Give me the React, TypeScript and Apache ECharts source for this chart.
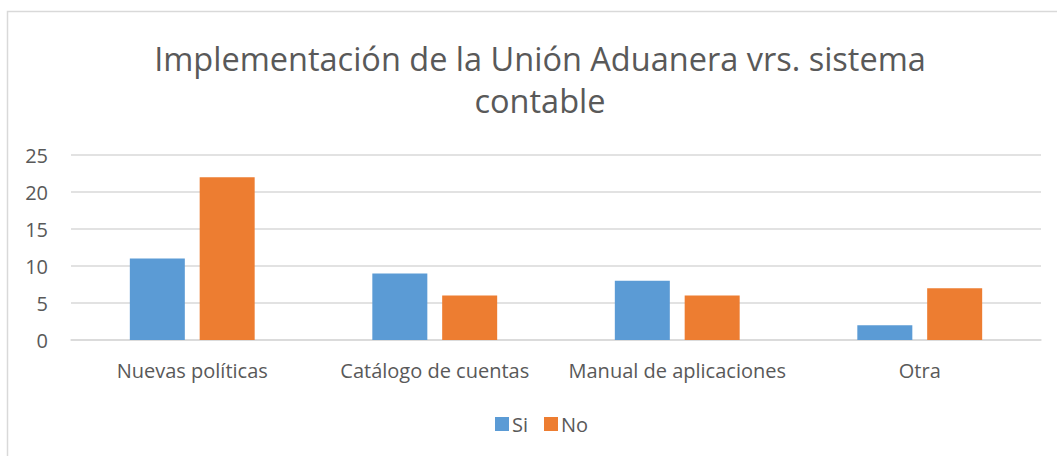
import React, { useEffect, useRef } from "react";
import * as echarts from "echarts";

const categories = ["Nuevas políticas", "Catálogo de cuentas", "Manual de aplicaciones", "Otra"];
const siValues = [11, 9, 8, 2];
const noValues = [22, 6, 6, 7];
const titleText = "Implementación de la Unión Aduanera vrs. sistema\ncontable";

export default function App() {
  const ref = useRef<HTMLDivElement>(null);
  useEffect(() => {
    if (!ref.current) return;
    const chart = echarts.init(ref.current, null, { renderer: "svg" });
    const font = "'Open Sans', 'Noto Sans', sans-serif";
    chart.setOption({
      animation: false,
      backgroundColor: "#ffffff",
      textStyle: { fontFamily: font },
      title: {
        text: titleText,
        left: 535,
        top: 32,
        textAlign: "center",
        textStyle: { fontSize: 32.5, fontWeight: "normal", color: "#595959", lineHeight: 42, fontFamily: font },
      },
      graphic: [
        {
          type: "rect",
          shape: { x: 7.5, y: 11.5, width: 1060, height: 460 },
          style: { fill: "none", stroke: "#d9d9d9", lineWidth: 1.5 },
          silent: true,
        },
      ],
      legend: {
        bottom: 17,
        left: 490,
        itemWidth: 14,
        itemHeight: 14,
        itemGap: 16,
        icon: "rect",
        textStyle: { fontSize: 20, color: "#595959", fontFamily: font, padding: [0, 0, 0, -2] },
        data: ["Si", "No"],
      },
      grid: { left: 71, right: 16, top: 155, bottom: 116, containLabel: false },
      xAxis: {
        type: "category",
        data: categories,
        axisTick: { show: false },
        axisLine: { lineStyle: { color: "#d9d9d9", width: 1.5 } },
        axisLabel: { fontSize: 20, color: "#595959", margin: 20, interval: 0, fontFamily: font },
      },
      yAxis: {
        type: "value",
        min: 0,
        max: 25,
        interval: 5,
        axisLine: { show: false },
        axisTick: { show: false },
        splitLine: { lineStyle: { color: "#d9d9d9", width: 1.5 } },
        axisLabel: { fontSize: 20, color: "#595959", margin: 23, fontFamily: font },
      },
      series: [
        {
          name: "Si",
          type: "bar",
          data: siValues,
          barWidth: 55,
          barGap: "27%",
          itemStyle: { color: "#5B9BD5" },
        },
        {
          name: "No",
          type: "bar",
          data: noValues,
          barWidth: 55,
          itemStyle: { color: "#ED7D31" },
        },
      ],
    });
    return () => chart.dispose();
  }, []);
  return (
    <div
      ref={ref}
      style={{ position: "absolute", left: 0, top: 0, width: 1057, height: 456 }}
    />
  );
}
